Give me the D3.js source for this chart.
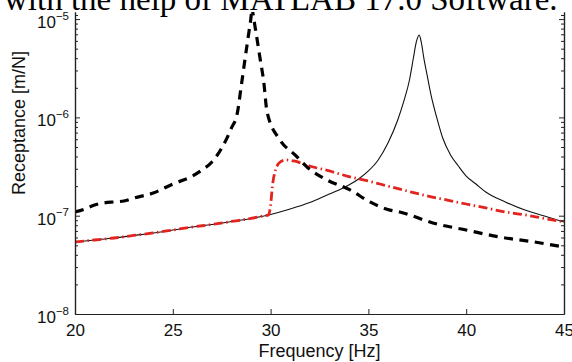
<!DOCTYPE html>
<html><head><meta charset="utf-8">
<script src="https://cdn.jsdelivr.net/npm/d3@7"></script>
<style>html,body{margin:0;padding:0;background:#fff;} svg{display:block;}</style>
</head><body>
<svg id="chart" width="572" height="362"></svg>
<script>
// ---- data ----
const headerText = "with the help of MATLAB 17.0 Software.";
const xLabel = "Frequency [Hz]";
const yLabel = "Receptance [m/N]";
const xTicks = [20, 25, 30, 35, 40, 45];
const yTickExps = [-8, -7, -6, -5];

// solid thin black line
const solidFreq = [20, 21, 22, 23, 24, 25, 26, 27, 28, 29, 30, 31, 32, 33, 33.5, 34, 34.5, 35, 35.5, 36, 36.5, 36.8, 37.1, 37.3, 37.45, 37.6, 37.7, 37.85, 38.0, 38.2, 38.5, 38.8, 39.2, 39.6, 40, 40.5, 41, 42, 43, 44, 45];
const solidRec  = [5.40e-8, 5.66e-8, 5.93e-8, 6.29e-8, 6.67e-8, 7.15e-8, 7.67e-8, 8.14e-8, 8.73e-8, 9.37e-8, 1.03e-7, 1.17e-7, 1.362e-7, 1.663e-7, 1.83e-7, 2.05e-7, 2.36e-7, 2.85e-7, 3.69e-7, 5.49e-7, 9.41e-7, 1.435e-6, 2.40e-6, 4.02e-6, 5.85e-6, 6.89e-6, 5.85e-6, 3.84e-6, 2.70e-6, 1.69e-6, 9.86e-7, 6.17e-7, 4.15e-7, 3.20e-7, 2.53e-7, 2.10e-7, 1.74e-7, 1.38e-7, 1.14e-7, 9.93e-8, 8.63e-8];

// thick black dashed line
const dashFreq = [20, 20.5, 21, 21.5, 22, 22.5, 23, 24, 25, 26, 26.5, 27, 27.5, 28, 28.3, 28.5, 28.7, 28.9, 29.0, 29.05, 29.1, 29.25, 29.45, 29.65, 29.82, 30.48, 31.25, 31.86, 32.88, 34.06, 35.08, 36.1, 36.6, 38.3, 40, 41.7, 43.5, 45];
const dashRec  = [1.09e-7, 1.17e-7, 1.285e-7, 1.35e-7, 1.38e-7, 1.41e-7, 1.51e-7, 1.70e-7, 2.10e-7, 2.53e-7, 2.92e-7, 3.52e-7, 4.88e-7, 7.80e-7, 1.11e-6, 2.09e-6, 4.02e-6, 7.57e-6, 1.05e-5, 1.33e-5, 1.13e-5, 7.39e-6, 4.12e-6, 2.29e-6, 1.13e-6, 5.89e-7, 4.15e-7, 3.13e-7, 2.31e-7, 1.83e-7, 1.38e-7, 1.14e-7, 1.09e-7, 8.43e-8, 7.15e-8, 6.07e-8, 5.40e-8, 4.80e-8];

// red dash-dot line
const redFreq = [20, 21, 22, 23, 24, 25, 26, 27, 28, 29, 29.5, 29.9, 30.0, 30.1, 30.25, 30.5, 30.8, 31.2, 32, 33, 34, 35, 36, 37, 38, 39, 40, 41, 42, 43, 44, 45];
const redRec  = [5.40e-8, 5.66e-8, 5.93e-8, 6.29e-8, 6.67e-8, 7.15e-8, 7.67e-8, 8.14e-8, 8.73e-8, 9.37e-8, 9.82e-8, 1.02e-7, 1.285e-7, 2.05e-7, 2.92e-7, 3.52e-7, 3.69e-7, 3.60e-7, 3.20e-7, 2.85e-7, 2.50e-7, 2.25e-7, 2.00e-7, 1.78e-7, 1.59e-7, 1.445e-7, 1.315e-7, 1.20e-7, 1.09e-7, 1.02e-7, 9.37e-8, 8.63e-8];

// ---- layout ----
const L = 75, R = 564, T = 12, B = 314;
const svg = d3.select("#chart");
const x = d3.scaleLinear().domain([20, 45]).range([L, R]);
const y = d3.scaleLog().domain([1e-8, 1.18e-5]).range([B, T]);

const sans = "'Liberation Sans', Arial, Helvetica, sans-serif";

svg.append("defs").append("clipPath").attr("id", "plotclip")
  .append("rect").attr("x", L).attr("y", T).attr("width", R - L).attr("height", B - T);

const zip = (a, b) => a.map((v, i) => [v, b[i]]);
const line = d3.line().x(d => x(d[0])).y(d => y(d[1])).curve(d3.curveMonotoneX);

const plot = svg.append("g").attr("clip-path", "url(#plotclip)");
plot.append("path").datum(zip(solidFreq, solidRec)).attr("d", line)
  .attr("fill", "none").attr("stroke", "#111").attr("stroke-width", 1.1);
plot.append("path").datum(zip(redFreq, redRec)).attr("d", line)
  .attr("fill", "none").attr("stroke", "#e3231d").attr("stroke-width", 2.8)
  .attr("stroke-dasharray", "9,3.5,1.5,3.5");
plot.append("path").datum(zip(dashFreq, dashRec)).attr("d", line)
  .attr("fill", "none").attr("stroke", "#000").attr("stroke-width", 3.2)
  .attr("stroke-dasharray", "9,6.5");

const minor = [];
for (let e = -8; e < -5; e++) for (let m = 2; m <= 9; m++) minor.push(m * Math.pow(10, e));
minor.push(1.1e-5);

function styleAxis(g) {
  g.selectAll("path.domain").attr("stroke", "#222").attr("stroke-width", 1.2);
  g.selectAll(".tick line").attr("stroke", "#222").attr("stroke-width", 1);
}

const gl = svg.append("g").attr("transform", `translate(${L},0)`)
  .call(d3.axisLeft(y).tickValues(yTickExps.map(e => Math.pow(10, e))).tickSize(-5).tickSizeOuter(0).tickFormat(""));
styleAxis(gl);
const glm = svg.append("g").attr("transform", `translate(${L},0)`)
  .call(d3.axisLeft(y).tickValues(minor).tickSize(-3).tickSizeOuter(0).tickFormat(""));
styleAxis(glm);

const gr = svg.append("g").attr("transform", `translate(${R},0)`)
  .call(d3.axisRight(y).tickValues(yTickExps.map(e => Math.pow(10, e))).tickSize(-5).tickSizeOuter(0).tickFormat(""));
styleAxis(gr);
const grm = svg.append("g").attr("transform", `translate(${R},0)`)
  .call(d3.axisRight(y).tickValues(minor).tickSize(-3).tickSizeOuter(0).tickFormat(""));
styleAxis(grm);

const gb = svg.append("g").attr("transform", `translate(0,${B})`)
  .call(d3.axisBottom(x).tickValues(xTicks).tickSize(-5).tickSizeOuter(0).tickPadding(10).tickFormat(d3.format("d")));
styleAxis(gb);
gb.selectAll(".tick text").attr("font-family", sans).attr("font-size", 17).attr("fill", "#111");
gb.selectAll(".tick").filter(d => d === 20 || d === 45).select("line").remove();

yTickExps.forEach(e => {
  const t = svg.append("text").attr("x", L - 6).attr("y", y(Math.pow(10, e)) + 9)
    .attr("text-anchor", "end").attr("font-family", sans).attr("fill", "#111");
  t.append("tspan").attr("font-size", 17).text("10");
  t.append("tspan").attr("font-size", 11.5).attr("dy", -8.5).text("\u2212" + Math.abs(e));
});

svg.append("text").attr("x", (L + R) / 2).attr("y", 356.5).attr("text-anchor", "middle")
  .attr("font-family", sans).attr("font-size", 18).attr("fill", "#111").text(xLabel);
svg.append("text").attr("transform", `translate(25,123) rotate(-90)`).attr("text-anchor", "middle")
  .attr("font-family", sans).attr("font-size", 18).attr("fill", "#111").text(yLabel);

svg.append("text").attr("x", 4).attr("y", 10).attr("font-family", "'Liberation Serif', 'Times New Roman', serif")
  .attr("font-size", 33).attr("fill", "#000").text(headerText);
</script>
</body></html>
